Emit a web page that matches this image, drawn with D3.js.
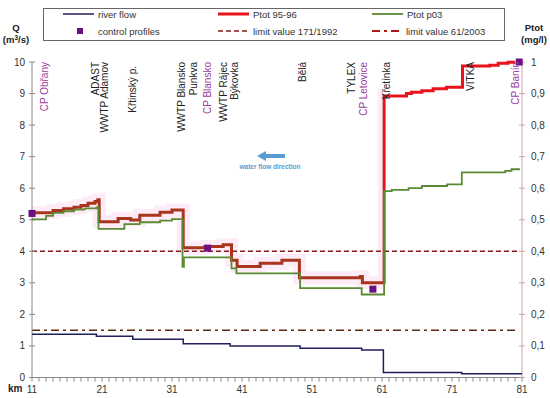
<!DOCTYPE html>
<html><head><meta charset="utf-8">
<script src="https://cdn.jsdelivr.net/npm/d3@7"></script>
<style>body{margin:0;background:#fff}svg{display:block;font-family:"Liberation Sans",Arial,sans-serif}</style>
</head><body><svg id="c" width="550" height="398"></svg>
<script>
// ---- data ----
const flowKm = [11, 20.2, 25.4, 32.6, 39.3, 49.3, 58.1, 61.2, 72.4, 81];
const flowQ  = [1.37, 1.31, 1.21, 1.07, 1.0, 0.93, 0.87, 0.16, 0.12, 0.12];

const p9596Km = [11, 14, 15.5, 17, 18, 19, 20, 20.4, 20.6, 23.3, 25.1, 26.4, 29.3, 31, 32.6, 35.7, 38.3, 39.5, 40.3, 43.6, 46.7, 49.2, 57.9, 58.2, 61.3, 64.5, 65.2, 66.7, 68.3, 70.2, 72.5, 76.4, 77.6, 79, 80];
const p9596   = [0.522, 0.529, 0.535, 0.54, 0.545, 0.552, 0.558, 0.563, 0.494, 0.504, 0.499, 0.514, 0.524, 0.531, 0.411, 0.415, 0.421, 0.372, 0.352, 0.362, 0.372, 0.316, 0.32, 0.30, 0.892, 0.9, 0.904, 0.909, 0.915, 0.92, 0.987, 0.99, 0.996, 0.999, 0.999];

const p03Km = [11, 13, 14, 15.5, 17, 18.5, 20.2, 20.5, 24.2, 26.4, 29.3, 31, 32.5, 32.7, 39.5, 40.2, 49.3, 58.1, 61.3, 62.4, 64.8, 66.7, 70.3, 72.4, 78.6, 79.5, 80.7];
const p03   = [0.501, 0.512, 0.522, 0.527, 0.532, 0.536, 0.539, 0.471, 0.486, 0.492, 0.497, 0.502, 0.351, 0.381, 0.346, 0.33, 0.283, 0.263, 0.591, 0.595, 0.6, 0.607, 0.612, 0.65, 0.655, 0.66, 0.66];

const cpKm  = [11, 36.1, 59.7, 80.6];
const cpVal = [0.52, 0.41, 0.28, 1.0];

const limit1992 = 0.4;
const limit2003 = 0.15;

const siteNames = ["CP Obřany", "ADAST", "WWTP Adamov", "Křtinský p.", "WWTP Blansko", "Punkva", "CP Blansko", "WWTP Rájec", "Býkovka", "Bělá", "TYLEX", "CP Letovice", "Křetínka", "VITKA", "CP Banín"];
const siteKm    = [12.85, 20.0, 21.3, 25.3, 32.4, 34.0, 36.1, 38.3, 39.9, 49.7, 56.7, 58.3, 61.6, 73.7, 80.0];

const kmTicks = [11, 21, 31, 41, 51, 61, 71, 81];
const qTicks = [0,1,2,3,4,5,6,7,8,9,10];
const pTicks = [0,0.1,0.2,0.3,0.4,0.5,0.6,0.7,0.8,0.9,1];
const pTickLabels = ["0","0,1","0,2","0,3","0,4","0,5","0,6","0,7","0,8","0,9","1"];

// ---- chart ----
const svg = d3.select("#c");
const x = d3.scaleLinear().domain([11,81]).range([32,522]);
const yQ = d3.scaleLinear().domain([0,10]).range([377.5,62]);
const yP = d3.scaleLinear().domain([0,1]).range([377.5,62]);

const defs = svg.append("defs");
defs.append("clipPath").attr("id","leftPart").append("rect")
  .attr("x",0).attr("y",0).attr("width",x(61.15)).attr("height",398);
defs.append("clipPath").attr("id","rightPart").append("rect")
  .attr("x",x(61.15)).attr("y",0).attr("width",550).attr("height",398);

const step = (ks, vs, ys) => d3.line().curve(d3.curveStepAfter).x((d,i)=>x(ks[i])).y((d,i)=>ys(vs[i]))(vs);

// pink shading behind red line (left part)
svg.append("path").attr("d", step(p9596Km, p9596, yP)).attr("fill","none")
  .attr("stroke","#fdebf7").attr("stroke-width",13).attr("stroke-linejoin","miter")
  .attr("clip-path","url(#leftPart)");

// limit lines
svg.append("line").attr("x1",x(11)).attr("x2",x(80.5)).attr("y1",yP(limit1992)).attr("y2",yP(limit1992))
  .attr("stroke","#8b1a1a").attr("stroke-width",1.6).attr("stroke-dasharray","5,3");
svg.append("line").attr("x1",x(11)).attr("x2",x(80.5)).attr("y1",yP(limit2003)).attr("y2",yP(limit2003))
  .attr("stroke","#5e2a10").attr("stroke-width",1.6).attr("stroke-dasharray","8,4,3,4");

// axes
const gx = svg.append("g").attr("transform",`translate(0,${yQ(0)})`);
gx.append("line").attr("x1",x(11)).attr("x2",x(81)).attr("stroke","#888");
gx.selectAll("line.t").data(d3.range(11,82)).join("line").attr("class","t")
  .attr("x1",d=>x(d)).attr("x2",d=>x(d)).attr("y1",0).attr("y2",4).attr("stroke","#888");
gx.selectAll("text").data(kmTicks).join("text").attr("x",d=>x(d)).attr("y",15)
  .attr("text-anchor","middle").attr("font-size",10).attr("fill","#333").text(d=>d);
svg.append("text").attr("x",8).attr("y",392).attr("font-size",10).attr("font-weight","bold").attr("fill","#222").text("km");

const gl = svg.append("g");
gl.append("line").attr("x1",x(11)).attr("x2",x(11)).attr("y1",yQ(0)).attr("y2",yQ(10)).attr("stroke","#888");
gl.selectAll("line.t").data(qTicks).join("line").attr("class","t")
  .attr("x1",x(11)-3).attr("x2",x(11)+3).attr("y1",d=>yQ(d)).attr("y2",d=>yQ(d)).attr("stroke","#888");
gl.selectAll("text").data(qTicks).join("text").attr("x",x(11)-7).attr("y",d=>yQ(d)+3.5)
  .attr("text-anchor","end").attr("font-size",10).attr("fill","#333").text(d=>d);

const gr = svg.append("g");
gr.append("line").attr("x1",x(81)).attr("x2",x(81)).attr("y1",yP(0)).attr("y2",yP(1)).attr("stroke","#c9a3a3");
gr.selectAll("line.t").data(pTicks).join("line").attr("class","t")
  .attr("x1",x(81)-3).attr("x2",x(81)+3).attr("y1",d=>yP(d)).attr("y2",d=>yP(d)).attr("stroke","#c9a3a3");
gr.selectAll("text").data(pTicks).join("text").attr("x",x(81)+9).attr("y",d=>yP(d)+3.5)
  .attr("font-size",10).attr("fill","#333").text((d,i)=>pTickLabels[i]);

// axis titles
svg.append("text").attr("x",16).attr("y",31).attr("text-anchor","middle").attr("font-size",9.5).attr("font-weight","bold").attr("fill","#222").text("Q");
svg.append("text").attr("x",16).attr("y",43).attr("text-anchor","middle").attr("font-size",9.5).attr("font-weight","bold").attr("fill","#222")
  .html('(m<tspan font-size="6.5" dy="-3">3</tspan><tspan dy="3">/s)</tspan>');
svg.append("text").attr("x",534).attr("y",31).attr("text-anchor","middle").attr("font-size",9.5).attr("font-weight","bold").attr("fill","#222").text("Ptot");
svg.append("text").attr("x",534).attr("y",43).attr("text-anchor","middle").attr("font-size",9.5).attr("font-weight","bold").attr("fill","#222").text("(mg/l)");

// series
svg.append("path").attr("d", step(flowKm, flowQ, yQ)).attr("fill","none").attr("stroke","#1f1f5e").attr("stroke-width",1.5);
svg.append("path").attr("d", step(p9596Km, p9596, yP)).attr("fill","none").attr("stroke","#a8361c").attr("stroke-width",3).attr("clip-path","url(#leftPart)");
svg.append("path").attr("d", step(p9596Km, p9596, yP)).attr("fill","none").attr("stroke","#e8131b").attr("stroke-width",3).attr("clip-path","url(#rightPart)");
svg.append("path").attr("d", step(p03Km, p03, yP)).attr("fill","none").attr("stroke","#5a8a32").attr("stroke-width",1.8);

// control profiles
svg.selectAll("rect.cp").data(cpVal).join("rect").attr("class","cp")
  .attr("x",(d,i)=>x(cpKm[i])-3.5).attr("y",d=>yP(d)-3.5).attr("width",7).attr("height",7).attr("fill","#6a1080");

// site labels
svg.selectAll("text.site").data(siteNames).join("text").attr("class","site")
  .attr("transform",(d,i)=>`translate(${x(siteKm[i])},${d==="Křtinský p."?66:62}) rotate(-90)`)
  .attr("dy","0.35em").attr("text-anchor","end").attr("font-size",10)
  .attr("fill",d=>d.startsWith("CP")?"#9b3ba0":"#222").text(d=>d);

// water flow direction
svg.append("line").attr("x1",285).attr("x2",265).attr("y1",156).attr("y2",156).attr("stroke","#5b9bd5").attr("stroke-width",4);
svg.append("path").attr("d","M257,156 L266,151 L266,161 Z").attr("fill","#5b9bd5");
svg.append("text").attr("x",270).attr("y",169).attr("text-anchor","middle").attr("font-size",6.5).attr("font-weight","bold").attr("fill","#5b9bd5").text("water flow direction");

// legend
const lg = svg.append("g");
lg.append("rect").attr("x",43.5).attr("y",8.5).attr("width",461).attr("height",32).attr("fill","#fff").attr("stroke","#666");
const leg = [
  {t:"river flow", x:63, y:14, type:"line", c:"#1f1f5e", w:1.5, da:null},
  {t:"Ptot 95-96", x:218, y:14, type:"line", c:"#e8131b", w:3, da:null},
  {t:"Ptot p03", x:372, y:14, type:"line", c:"#5a8a32", w:1.8, da:null},
  {t:"control profiles", x:63, y:31, type:"sq", c:"#6a1080"},
  {t:"limit value 171/1992", x:218, y:31, type:"line", c:"#8b1a1a", w:1.6, da:"5,3"},
  {t:"limit value 61/2003", x:372, y:31, type:"line", c:"#b01818", w:1.8, da:"8,4,3,4"}
];
leg.forEach(l=>{
  if(l.type==="line"){
    lg.append("line").attr("x1",l.x).attr("x2",l.x+31).attr("y1",l.y).attr("y2",l.y).attr("stroke",l.c).attr("stroke-width",l.w).attr("stroke-dasharray",l.da);
  } else {
    lg.append("rect").attr("x",l.x+14).attr("y",l.y-3).attr("width",6).attr("height",6).attr("fill",l.c);
  }
  lg.append("text").attr("x",l.x+(l.t==="limit value 61/2003"?34:35)).attr("y",l.y+3.5).attr("font-size",9.5).attr("fill","#333").text(l.t);
});
</script>
</body></html>
